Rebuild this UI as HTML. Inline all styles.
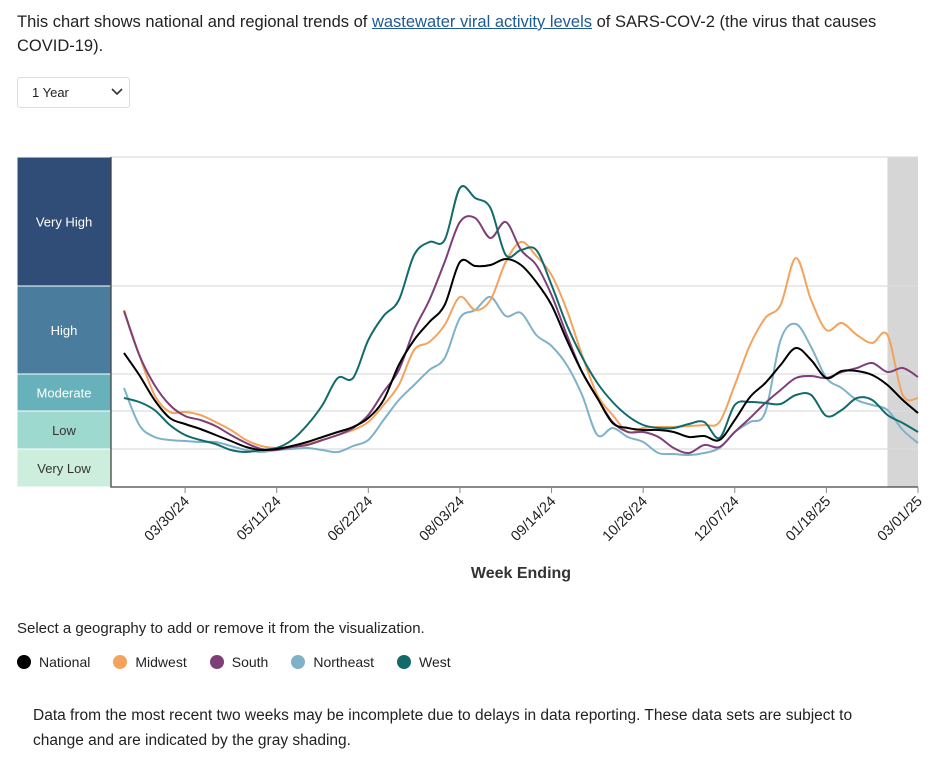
<!DOCTYPE html>
<html><head><meta charset="utf-8">
<style>
body{margin:0;width:936px;height:760px;background:#fff;font-family:"Liberation Sans",sans-serif;color:#222;position:relative;overflow:hidden}
.abs{position:absolute}
a{color:#1f5a96}
</style></head><body>
<div class="abs" style="left:17px;top:10px;width:910px;font-size:16.5px;line-height:24px">This chart shows national and regional trends of <a href="#">wastewater viral activity levels</a> of SARS-COV-2 (the virus that causes COVID-19).</div>
<div class="abs" style="left:17px;top:77px;width:113px;height:31px;border:1px solid #ddd;border-radius:3px;font-size:13px;line-height:30px;box-sizing:border-box;padding-left:14px">1 Year<svg style="position:absolute;right:6px;top:10px" width="12" height="8"><path d="M1 1L6 6L11 1" stroke="#333" stroke-width="1.6" fill="none"/></svg></div>
<svg class="abs" style="left:0;top:0" width="936" height="600" id="chart"></svg>
<div class="abs" style="left:17px;top:620px;font-size:15px">Select a geography to add or remove it from the visualization.</div>
<div class="abs" style="left:17px;top:654px;font-size:14px;display:flex;gap:0">
<span style="display:flex;align-items:center;margin-right:23px"><i style="width:14px;height:14px;border-radius:50%;background:#000;margin-right:8px"></i>National</span>
<span style="display:flex;align-items:center;margin-right:23px"><i style="width:14px;height:14px;border-radius:50%;background:#f4a35d;margin-right:8px"></i>Midwest</span>
<span style="display:flex;align-items:center;margin-right:23px"><i style="width:14px;height:14px;border-radius:50%;background:#7e3f79;margin-right:8px"></i>South</span>
<span style="display:flex;align-items:center;margin-right:23px"><i style="width:14px;height:14px;border-radius:50%;background:#7fb1c8;margin-right:8px"></i>Northeast</span>
<span style="display:flex;align-items:center"><i style="width:14px;height:14px;border-radius:50%;background:#126b6b;margin-right:8px"></i>West</span>
</div>
<div class="abs" style="left:33px;top:703px;width:860px;font-size:15.5px;line-height:25px">Data from the most recent two weeks may be incomplete due to delays in data reporting. These data sets are subject to change and are indicated by the gray shading.</div>
<script>
const tickLabels=["03/30/24","05/11/24","06/22/24","08/03/24","09/14/24","10/26/24","12/07/24","01/18/25","03/01/25"];
const tickWeeks=[4,10,16,22,28,34,40,46,52];
const bandNames=["Very Low","Low","Moderate","High","Very High"];
const bandBounds=[0,38,76,113,201,330];
const national=[134,112,87,69,63,58,52,46,40,37,38,41,45,50,55,60,69,87,122,147,165,182,225,221,222,228,222,205,182,147,115,89,64,59,57,57,55,50,51,47,67,90,104,122,139,127,109,116,116,112,102,87,74];
const midwest=[177,132,92,75,75,72,65,57,47,41,39,40,43,47,52,57,65,82,102,137,145,162,190,177,187,225,245,231,212,177,132,92,72,55,59,60,60,61,62,65,102,142,169,182,229,187,157,164,152,144,152,92,89];
const south=[176,132,102,82,71,67,61,52,44,38,37,40,42,47,52,59,72,95,117,157,187,225,265,269,249,265,237,222,192,152,115,89,65,55,55,50,39,34,42,40,55,69,84,97,109,111,109,115,119,124,115,119,110];
const northeast=[99,62,50,47,46,45,45,41,37,35,37,38,39,37,35,41,47,67,87,102,117,129,169,177,190,171,174,152,141,122,92,52,59,50,45,34,33,32,34,39,55,65,75,147,163,140,109,99,87,82,77,57,44];
const west=[89,85,77,62,52,47,43,37,35,37,39,47,62,82,109,109,147,171,187,232,245,247,299,289,279,232,237,237,202,162,130,104,85,71,62,59,59,63,65,49,82,85,84,83,92,92,71,77,89,87,72,64,55];
const NS="http://www.w3.org/2000/svg";
const svg=document.getElementById('chart');
const X0=124,X1=918,Y0=487,Y1=157,L=111,R=918;
const xS=i=>X0+(X1-X0)*i/52;
const yS=v=>Y0-(Y0-Y1)*v/330;
function mk(t,a,p){const e=document.createElementNS(NS,t);for(const k in a)e.setAttribute(k,a[k]);(p||svg).appendChild(e);return e;}
const sh=mk('rect',{x:xS(50),y:Y1,width:xS(52)-xS(50),height:Y0-Y1,fill:'#d6d6d6'});


const bandColors=["#cdeedd","#9dd9cf","#67b1bb","#4a7c9e","#2f4d77"];
const textCol=["#333","#333","#fff","#fff","#fff"];
for(let b=0;b<5;b++){
 const yt=yS(bandBounds[b+1]),yb=yS(bandBounds[b]);
 const r=mk('rect',{x:17,y:yt,width:L-17,height:yb-yt,fill:bandColors[b],stroke:'#fff','stroke-width':1});
 
 
 const t=mk('text',{x:64,y:(yt+yb)/2+5,'text-anchor':'middle','font-size':13,fill:textCol[b],'font-family':'Liberation Sans, sans-serif'});
 t.textContent=bandNames[b];
 
 
 const g=mk('line',{x1:L,x2:R,y1:yt,y2:yt,stroke:'#ddd','stroke-width':1.3});
 
 
}
const ax=mk('path',{d:`M${L} ${Y1}V${Y0}H${R}`,stroke:'#444','stroke-width':1.3,fill:'none'});


tickWeeks.forEach((w,k)=>{
 const x=xS(w);
 const tk=mk('line',{x1:x,x2:x,y1:Y0,y2:Y0+6,stroke:'#888'});
 
 
 const t=mk('text',{x:x+5,y:Y0+15,'text-anchor':'end','font-size':14.5,fill:'#222',transform:`rotate(-45 ${x+5} ${Y0+15})`,'font-family':'Liberation Sans, sans-serif'});
 t.textContent=tickLabels[k];
 
 
});
const xt=mk('text',{x:521,y:578,'text-anchor':'middle','font-size':16,'font-weight':'bold',fill:'#333','font-family':'Liberation Sans, sans-serif'});
xt.textContent='Week Ending';


function path(vals){
 const p=vals.map((v,i)=>[xS(i),yS(v)]);
 let d=`M${p[0][0]} ${p[0][1]}`;
 for(let i=0;i<p.length-1;i++){
  const p0=p[Math.max(0,i-1)],p1=p[i],p2=p[i+1],p3=p[Math.min(p.length-1,i+2)];
  const c1=[p1[0]+(p2[0]-p0[0])/6,p1[1]+(p2[1]-p0[1])/6],c2=[p2[0]-(p3[0]-p1[0])/6,p2[1]-(p3[1]-p1[1])/6];
  d+=`C${c1[0]} ${c1[1]},${c2[0]} ${c2[1]},${p2[0]} ${p2[1]}`;
 }
 return d;
}
const series=[["northeast",northeast,"#7fb1c8"],["midwest",midwest,"#f4a35d"],["south",south,"#7e3f79"],["west",west,"#126b6b"],["national",national,"#000"]];
series.forEach(s=>{
 const e=mk('path',{d:path(s[1]),stroke:s[2],'stroke-width':2,fill:'none'});
 
 
});
</script>
</body></html>
